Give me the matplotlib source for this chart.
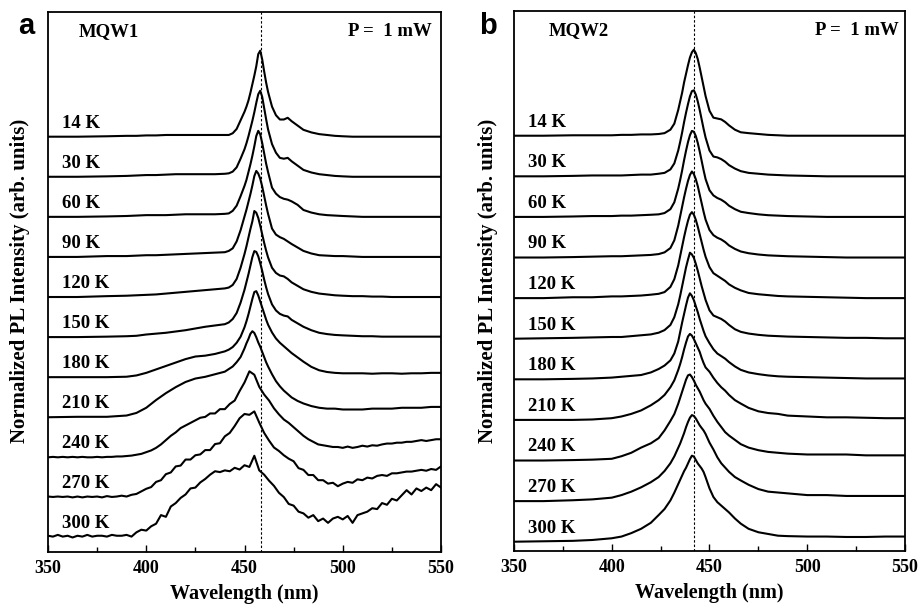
import numpy as np
import matplotlib
matplotlib.use('Agg')
from matplotlib import pyplot as plt
from matplotlib.ticker import MultipleLocator

plt.rcParams['font.family'] = ['Liberation Serif', 'DejaVu Serif']
plt.rcParams['font.weight'] = 'bold'

temps = ['14 K', '30 K', '60 K', '90 K', '120 K', '150 K',
         '180 K', '210 K', '240 K', '270 K', '300 K']

# ---- MQW1 (panel a), normalized PL intensity ----
wl_a = [350, 365, 380, 390, 395, 400, 405, 410, 415, 420,
        425, 430, 435, 440, 442, 444, 446, 448, 450, 451,
        452, 453, 454, 455, 456, 457, 458, 459, 460, 461,
        462, 464, 466, 468, 470, 472, 474, 477, 480, 484,
        488, 492, 496, 500, 505, 510, 515, 520, 525, 530,
        535, 540, 545, 550]

wl_a_fine = [350, 352.5, 355, 357.5, 360, 362.5, 365, 367.5, 370, 372.5,
             375, 377.5, 380, 382.5, 385, 387.5, 390, 392.5, 395, 397.5,
             400, 402.5, 405, 407.5, 410, 412.5, 415, 417.5, 420, 422.5,
             425, 427.5, 430, 432.5, 435, 437.5, 440, 442.5, 445, 447.5,
             450, 452.5, 455, 457.5, 460, 462.5, 465, 467.5, 470, 472.5,
             475, 477.5, 480, 482.5, 485, 487.5, 490, 492.5, 495, 497.5,
             500, 502.5, 505, 507.5, 510, 512.5, 515, 517.5, 520, 522.5,
             525, 527.5, 530, 532.5, 535, 537.5, 540, 542.5, 545, 547.5,
             550]

a_14 = [0.0, 0.0, 0.005, 0.01, 0.01, 0.015, 0.015, 0.02, 0.02, 0.02,
        0.02, 0.02, 0.02, 0.02, 0.02, 0.04, 0.09, 0.19, 0.29, 0.35,
        0.42, 0.51, 0.61, 0.71, 0.82, 0.96, 1.00, 0.90, 0.76, 0.63,
        0.52, 0.35, 0.25, 0.20, 0.20, 0.22, 0.18, 0.13, 0.08, 0.05,
        0.03, 0.02, 0.01, 0.005, 0.0, 0.0, 0.0, 0.0, 0.0, 0.0,
        0.0, 0.0, 0.0, 0.0]
a_30 = [0.0, 0.0, 0.005, 0.01, 0.015, 0.02, 0.02, 0.025, 0.03, 0.03,
        0.03, 0.03, 0.03, 0.035, 0.04, 0.06, 0.11, 0.21, 0.32, 0.39,
        0.47, 0.56, 0.65, 0.75, 0.86, 0.96, 1.00, 0.93, 0.80, 0.67,
        0.55, 0.38, 0.28, 0.22, 0.21, 0.22, 0.18, 0.13, 0.08, 0.05,
        0.03, 0.02, 0.01, 0.005, 0.0, 0.0, 0.0, 0.0, 0.0, 0.0,
        0.0, 0.0, 0.0, 0.0]
a_60 = [0.0, 0.0, 0.005, 0.01, 0.015, 0.02, 0.02, 0.02, 0.025, 0.03,
        0.03, 0.03, 0.03, 0.035, 0.04, 0.07, 0.13, 0.24, 0.36, 0.43,
        0.52, 0.61, 0.71, 0.82, 0.94, 1.00, 0.96, 0.86, 0.74, 0.62,
        0.52, 0.34, 0.27, 0.23, 0.21, 0.20, 0.18, 0.14, 0.08, 0.05,
        0.03, 0.02, 0.015, 0.01, 0.005, 0.0, 0.0, 0.0, 0.0, 0.0,
        0.0, 0.0, 0.0, 0.0]
a_90 = [0.0, 0.0, 0.01, 0.01, 0.015, 0.02, 0.02, 0.025, 0.03, 0.035,
        0.04, 0.045, 0.05, 0.055, 0.07, 0.10, 0.18, 0.31, 0.47, 0.55,
        0.64, 0.73, 0.83, 0.94, 1.00, 0.97, 0.91, 0.82, 0.71, 0.60,
        0.50, 0.33, 0.26, 0.23, 0.21, 0.18, 0.15, 0.11, 0.07, 0.04,
        0.02, 0.015, 0.01, 0.01, 0.005, 0.0, 0.0, 0.0, 0.0, 0.0,
        0.0, 0.0, 0.0, 0.0]
a_120 = [0.0, 0.0, 0.01, 0.015, 0.02, 0.025, 0.03, 0.04, 0.05, 0.06,
         0.07, 0.08, 0.09, 0.10, 0.11, 0.14, 0.21, 0.34, 0.50, 0.59,
         0.69, 0.79, 0.88, 1.00, 0.98, 0.92, 0.83, 0.73, 0.63, 0.54,
         0.46, 0.34, 0.28, 0.25, 0.24, 0.21, 0.17, 0.13, 0.09, 0.06,
         0.04, 0.03, 0.02, 0.015, 0.01, 0.01, 0.005, 0.005, 0.0, 0.0,
         0.0, 0.0, 0.0, 0.0]
a_150 = [0.0, 0.0, 0.005, 0.01, 0.015, 0.03, 0.04, 0.05, 0.065, 0.08,
         0.10, 0.12, 0.135, 0.15, 0.17, 0.21, 0.28, 0.40, 0.55, 0.64,
         0.73, 0.83, 0.93, 1.00, 0.99, 0.94, 0.86, 0.77, 0.67, 0.58,
         0.50, 0.38, 0.31, 0.27, 0.25, 0.24, 0.20, 0.16, 0.12, 0.08,
         0.05, 0.035, 0.025, 0.02, 0.015, 0.01, 0.01, 0.005, 0.005, 0.005,
         0.005, 0.005, 0.005, 0.005]
a_180 = [0.0, 0.0, 0.0, 0.005, 0.02, 0.05, 0.09, 0.13, 0.17, 0.21,
         0.24, 0.25, 0.27, 0.30, 0.32, 0.35, 0.40, 0.47, 0.58, 0.65,
         0.73, 0.82, 0.91, 0.99, 1.00, 0.95, 0.88, 0.81, 0.74, 0.67,
         0.61, 0.52, 0.45, 0.40, 0.36, 0.32, 0.28, 0.23, 0.18, 0.12,
         0.08, 0.06, 0.05, 0.045, 0.045, 0.045, 0.04, 0.045, 0.045, 0.04,
         0.045, 0.045, 0.05, 0.05]
a_210 = [0.0, 0.005, 0.005, 0.02, 0.05, 0.11, 0.20, 0.28, 0.35, 0.41,
         0.45, 0.47, 0.50, 0.53, 0.56, 0.59, 0.64, 0.70, 0.80, 0.86,
         0.91, 0.97, 1.00, 0.98, 0.93, 0.87, 0.82, 0.76, 0.70, 0.64,
         0.59, 0.50, 0.42, 0.36, 0.31, 0.27, 0.23, 0.19, 0.16, 0.13,
         0.11, 0.10, 0.10, 0.09, 0.09, 0.09, 0.10, 0.10, 0.10, 0.11,
         0.11, 0.11, 0.12, 0.12]
a_240 = [0.0, 0.005, 0.0, 0.005, 0.0, 0.005, 0.0, 0.005, 0.0, 0.0,
         0.005, 0.0, 0.005, 0.005, 0.01, 0.01, 0.015, 0.02, 0.03, 0.04,
         0.06, 0.08, 0.11, 0.15, 0.20, 0.25, 0.29, 0.34, 0.37, 0.40,
         0.43, 0.46, 0.47, 0.51, 0.51, 0.56, 0.56, 0.62, 0.66, 0.77,
         0.87, 1.00, 0.96, 0.82, 0.73, 0.66, 0.57, 0.50, 0.44, 0.40,
         0.35, 0.30, 0.25, 0.21, 0.18, 0.15, 0.14, 0.13, 0.12, 0.12,
         0.11, 0.125, 0.11, 0.12, 0.135, 0.125, 0.14, 0.135, 0.15, 0.16,
         0.16, 0.17, 0.17, 0.18, 0.18, 0.19, 0.20, 0.19, 0.20, 0.21,
         0.21]
a_270 = [0.01, 0.005, 0.01, 0.005, 0.01, 0.0, 0.01, 0.0, 0.01, 0.005,
         0.01, 0.0, 0.015, 0.005, 0.01, 0.02, 0.01, 0.03, 0.04, 0.07,
         0.10, 0.12, 0.18, 0.20, 0.27, 0.29, 0.36, 0.37, 0.44, 0.44,
         0.49, 0.50, 0.55, 0.55, 0.62, 0.63, 0.71, 0.75, 0.83, 0.92,
         0.97, 0.96, 1.00, 0.87, 0.75, 0.66, 0.58, 0.54, 0.49, 0.45,
         0.42, 0.34, 0.32, 0.26, 0.26, 0.20, 0.20, 0.16, 0.17, 0.13,
         0.16, 0.18, 0.17, 0.21, 0.20, 0.23, 0.22, 0.25, 0.26, 0.25,
         0.28, 0.28, 0.29, 0.30, 0.30, 0.31, 0.32, 0.31, 0.33, 0.32,
         0.36]
a_300 = [0.02, 0.01, 0.03, 0.01, 0.02, 0.0, 0.02, 0.01, 0.03, 0.01,
         0.02, 0.02, 0.01, 0.03, 0.02, 0.02, 0.03, 0.01, 0.06, 0.09,
         0.08, 0.13, 0.16, 0.26, 0.24, 0.36, 0.40, 0.46, 0.50, 0.57,
         0.58, 0.64, 0.68, 0.73, 0.77, 0.76, 0.78, 0.77, 0.81, 0.79,
         0.84, 0.82, 0.95, 0.78, 0.73, 0.66, 0.60, 0.52, 0.47, 0.39,
         0.37, 0.30, 0.28, 0.23, 0.26, 0.19, 0.22, 0.17, 0.22, 0.24,
         0.21, 0.25, 0.17, 0.26, 0.28, 0.30, 0.34, 0.33, 0.40, 0.38,
         0.45, 0.43, 0.49, 0.55, 0.50, 0.57, 0.54, 0.58, 0.55, 0.62,
         0.58]

# ---- MQW2 (panel b) ----
wl_b = [350, 365, 380, 390, 400, 405, 410, 415, 420, 424,
        427, 430, 432, 434, 435, 436, 437, 438, 439, 440,
        441, 442, 443, 444, 445, 446, 447, 448, 450, 452,
        454, 456, 458, 460, 463, 466, 470, 475, 480, 485,
        490, 500, 510, 520, 530, 540, 550]

b_14 = [0.0, 0.0, 0.005, 0.005, 0.005, 0.01, 0.01, 0.015, 0.015, 0.02,
        0.03, 0.07, 0.14, 0.30, 0.40, 0.50, 0.62, 0.72, 0.82, 0.91,
        0.97, 1.00, 0.96, 0.89, 0.79, 0.68, 0.57, 0.46, 0.29, 0.21,
        0.20, 0.19, 0.16, 0.12, 0.07, 0.04, 0.03, 0.02, 0.01, 0.005,
        0.0, 0.0, 0.0, 0.0, 0.0, 0.0, 0.0]
b_30 = [0.0, 0.0, 0.005, 0.01, 0.01, 0.01, 0.015, 0.02, 0.02, 0.03,
        0.04, 0.08, 0.15, 0.30, 0.40, 0.51, 0.63, 0.74, 0.84, 0.93,
        0.99, 1.00, 0.95, 0.87, 0.77, 0.66, 0.55, 0.45, 0.30, 0.23,
        0.22, 0.20, 0.17, 0.13, 0.09, 0.06, 0.04, 0.03, 0.02, 0.015,
        0.01, 0.005, 0.0, 0.0, 0.0, 0.0, 0.0]
b_60 = [0.0, 0.0, 0.005, 0.01, 0.01, 0.015, 0.015, 0.02, 0.025, 0.03,
        0.045, 0.09, 0.17, 0.33, 0.43, 0.54, 0.66, 0.77, 0.87, 0.95,
        1.00, 0.99, 0.94, 0.86, 0.76, 0.65, 0.54, 0.44, 0.31, 0.25,
        0.22, 0.20, 0.17, 0.13, 0.09, 0.06, 0.045, 0.03, 0.02, 0.015,
        0.01, 0.005, 0.0, 0.0, 0.0, 0.0, 0.0]
b_90 = [0.0, 0.0, 0.005, 0.01, 0.015, 0.015, 0.02, 0.025, 0.03, 0.04,
        0.06, 0.11, 0.20, 0.37, 0.48, 0.59, 0.70, 0.80, 0.89, 0.96,
        1.00, 0.97, 0.91, 0.83, 0.73, 0.63, 0.53, 0.44, 0.32, 0.26,
        0.23, 0.21, 0.18, 0.14, 0.10, 0.07, 0.05, 0.035, 0.025, 0.02,
        0.015, 0.01, 0.005, 0.0, 0.0, 0.0, 0.0]
b_120 = [0.0, 0.0, 0.01, 0.01, 0.02, 0.02, 0.025, 0.03, 0.04, 0.05,
         0.07, 0.13, 0.22, 0.38, 0.49, 0.60, 0.71, 0.81, 0.90, 0.97,
         1.00, 0.97, 0.91, 0.83, 0.74, 0.65, 0.56, 0.48, 0.36, 0.29,
         0.26, 0.23, 0.20, 0.16, 0.12, 0.09, 0.06, 0.045, 0.035, 0.025,
         0.02, 0.015, 0.01, 0.005, 0.0, 0.0, 0.0]
b_150 = [0.0, 0.005, 0.01, 0.015, 0.02, 0.02, 0.03, 0.04, 0.05, 0.07,
         0.10, 0.16, 0.25, 0.40, 0.50, 0.61, 0.72, 0.83, 0.92, 1.00,
         0.98, 0.94, 0.87, 0.79, 0.70, 0.61, 0.53, 0.45, 0.33, 0.27,
         0.25, 0.23, 0.20, 0.16, 0.11, 0.08, 0.06, 0.045, 0.035, 0.03,
         0.025, 0.02, 0.015, 0.01, 0.01, 0.005, 0.005]
b_180 = [0.0, 0.0, 0.005, 0.01, 0.02, 0.03, 0.04, 0.05, 0.08, 0.12,
         0.16, 0.22, 0.30, 0.44, 0.55, 0.66, 0.76, 0.86, 0.95, 1.00,
         0.97, 0.92, 0.85, 0.78, 0.70, 0.63, 0.56, 0.50, 0.42, 0.35,
         0.30, 0.27, 0.24, 0.20, 0.15, 0.11, 0.08, 0.06, 0.045, 0.035,
         0.03, 0.025, 0.02, 0.015, 0.01, 0.01, 0.01]
b_210 = [0.0, 0.0, 0.0, 0.005, 0.02, 0.04, 0.07, 0.11, 0.17, 0.23,
         0.29, 0.38, 0.46, 0.58, 0.65, 0.73, 0.82, 0.90, 0.97, 1.00,
         0.98, 0.94, 0.89, 0.84, 0.79, 0.72, 0.66, 0.61, 0.56, 0.49,
         0.43, 0.38, 0.34, 0.29, 0.23, 0.19, 0.14, 0.10, 0.08, 0.07,
         0.05, 0.04, 0.03, 0.03, 0.025, 0.02, 0.02]
b_240 = [0.0, 0.0, 0.005, 0.01, 0.02, 0.05, 0.09, 0.15, 0.20, 0.26,
         0.35, 0.46, 0.54, 0.66, 0.73, 0.80, 0.87, 0.94, 0.99, 1.00,
         0.97, 0.93, 0.88, 0.84, 0.80, 0.75, 0.70, 0.66, 0.60, 0.52,
         0.45, 0.39, 0.33, 0.29, 0.24, 0.19, 0.15, 0.12, 0.10, 0.09,
         0.08, 0.07, 0.07, 0.07, 0.06, 0.06, 0.06]
b_270 = [0.0, 0.0, 0.01, 0.02, 0.04, 0.07, 0.11, 0.16, 0.22, 0.28,
         0.35, 0.44, 0.52, 0.62, 0.67, 0.73, 0.79, 0.86, 0.92, 0.97,
         1.00, 0.99, 0.96, 0.92, 0.88, 0.85, 0.82, 0.78, 0.68, 0.60,
         0.51, 0.44, 0.39, 0.34, 0.28, 0.24, 0.19, 0.14, 0.11, 0.10,
         0.09, 0.07, 0.07, 0.06, 0.06, 0.06, 0.06]
b_300 = [0.0, 0.005, 0.01, 0.02, 0.04, 0.06, 0.10, 0.15, 0.22, 0.31,
         0.38, 0.48, 0.57, 0.67, 0.72, 0.77, 0.82, 0.86, 0.91, 0.96,
         1.00, 0.99, 0.95, 0.91, 0.88, 0.85, 0.81, 0.75, 0.62, 0.52,
         0.46, 0.42, 0.38, 0.34, 0.27, 0.21, 0.15, 0.11, 0.09, 0.07,
         0.065, 0.06, 0.06, 0.055, 0.055, 0.06, 0.06]

# peak reference lines (nm)
peak_a = 458.2
peak_b = 442.1


def plot_panel(ax, spectra, step, ylim, peak, sample, sample_x, power_x):
    n = len(spectra)
    for i, (wl, inten) in enumerate(spectra):
        off = (n - 1 - i) * step
        ax.plot(wl, np.array(inten) + off, color='black', lw=1.5,
                solid_joinstyle='round')
        ax.text(357, off + 0.105, temps[i], fontsize=13.5, fontweight='bold',
                ha='left', va='baseline')

    ax.axvline(peak, color='black', lw=0.8, ls=(0, (2.2, 1.8)))
    ax.set_xlim(350, 550)
    ax.set_ylim(*ylim)
    ax.xaxis.set_major_locator(MultipleLocator(50))
    ax.xaxis.set_minor_locator(MultipleLocator(25))
    ax.tick_params(axis='x', which='both', direction='in', top=False,
                   labelsize=13, pad=6, width=1.0)
    ax.tick_params(axis='x', which='major', length=5)
    ax.tick_params(axis='x', which='minor', length=3.5)
    ax.set_yticks([])
    for sp in ax.spines.values():
        sp.set_linewidth(1.3)
    for lab in ax.get_xticklabels():
        lab.set_fontweight('bold')

    ax.set_xlabel('Wavelength (nm)', fontsize=14.5, fontweight='bold')
    ax.xaxis.set_label_coords(0.5, -0.06)

    ax.text(sample_x, 0.955, sample, transform=ax.transAxes, fontsize=13.5,
            fontweight='bold', ha='left', va='baseline')
    ax.text(power_x, 0.955, 'P =  1 mW', transform=ax.transAxes, fontsize=13.5,
            fontweight='bold', ha='right', va='baseline')


fig = plt.figure(figsize=(9.2, 6.1), dpi=100)
ax_a = fig.add_axes([48 / 920, 1 - 552 / 610, 393 / 920, 540 / 610])
ax_b = fig.add_axes([514 / 920, 1 - 551 / 610, 391 / 920, 540 / 610])

mqw1 = [(wl_a, a_14), (wl_a, a_30), (wl_a, a_60), (wl_a, a_90),
        (wl_a, a_120), (wl_a, a_150), (wl_a, a_180), (wl_a, a_210),
        (wl_a_fine, a_240), (wl_a_fine, a_270), (wl_a_fine, a_300)]
mqw2 = [(wl_b, b_14), (wl_b, b_30), (wl_b, b_60), (wl_b, b_90),
        (wl_b, b_120), (wl_b, b_150), (wl_b, b_180), (wl_b, b_210),
        (wl_b, b_240), (wl_b, b_270), (wl_b, b_300)]

plot_panel(ax_a, mqw1, 0.466, (-0.169, 6.11), peak_a, 'MQW1', 0.079, 0.976)
plot_panel(ax_b, mqw2, 0.472, (-0.108, 6.17), peak_b, 'MQW2', 0.0895, 0.985)

ylab = 'Normalized PL Intensity (arb. units)'
fig.text(20 / 920, 1 - 281 / 610, ylab, rotation=90, ha='center', va='center',
         fontsize=15, fontweight='bold')
fig.text(488 / 920, 1 - 281 / 610, ylab, rotation=90, ha='center', va='center',
         fontsize=15, fontweight='bold')

fig.text(26 / 920, 1 - 34 / 610, 'a', family=['Liberation Sans', 'DejaVu Sans'],
         fontsize=21, fontweight='bold', ha='center', va='baseline')
fig.text(488 / 920, 1 - 34 / 610, 'b', family=['Liberation Sans', 'DejaVu Sans'],
         fontsize=21, fontweight='bold', ha='center', va='baseline')

fig.savefig('out.png', dpi=100)
